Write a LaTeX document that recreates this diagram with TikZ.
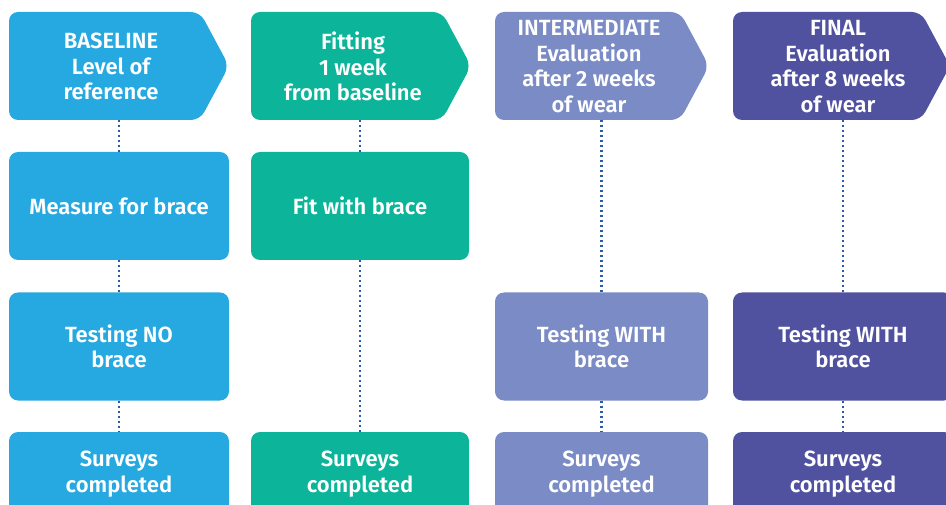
\documentclass[tikz,border=0pt]{standalone}
\usepackage{fontspec}
\setmainfont{Fira Sans}[BoldFont={Fira Sans SemiBold}]
\definecolor{cA}{RGB}{38,169,225}
\definecolor{cB}{RGB}{12,181,154}
\definecolor{cC}{RGB}{122,139,197}
\definecolor{cD}{RGB}{80,82,160}
\definecolor{dotblue}{RGB}{43,91,168}
\newcommand\labfont{\bfseries\fontsize{22}{25.5}\selectfont}
\tikzset{
  box/.style={fill=#1, rounded corners=9pt, minimum height=108pt, inner sep=0pt,
    text=white, font=\labfont, align=center},
  hshape/.style={fill=#1, rounded corners=9pt},
  htext/.style={text=white, font=\labfont, align=center, inner sep=0pt},
  dots/.style={draw=dotblue, line width=2.2pt, dash pattern=on 2pt off 3pt},
}
\begin{document}
\begin{tikzpicture}[x=1pt,y=-1pt]
\useasboundingbox (0,0) rectangle (946,505);
\clip (0,0) rectangle (946,505);
% headers
\fill[hshape=cA] (9,12) -- (200,12) -- (229,66) -- (200,120) -- (9,120) -- cycle;
\fill[hshape=cB] (251,12) -- (442,12) -- (471,66) -- (442,120) -- (251,120) -- cycle;
\fill[hshape=cC] (495,12) -- (680,12) -- (709,66) -- (680,120) -- (495,120) -- cycle;
\fill[hshape=cD] (733,12) -- (921,12) -- (950,66) -- (921,120) -- (733,120) -- cycle;
\node[htext] (h1) at (111,66.5) {BASELINE\\Level of\\reference};
\node[htext] (h2) at (353,66.5) {Fitting\\1 week\\from baseline};
\node[htext] (h3) at (589,66.5) {INTERMEDIATE\\Evaluation\\after 2 weeks\\of wear};
\node[htext] (h4) at (838,66.5) {FINAL\\Evaluation\\after 8 weeks\\of wear};
\coordinate (h1b) at (119,120);
\coordinate (h2b) at (360,120);
\coordinate (h3b) at (601.5,120);
\coordinate (h4b) at (843,120);
% boxes
\node[box=cA, minimum width=220pt] (m1) at (119,206) {Measure for brace};
\node[box=cA, minimum width=220pt] (t1) at (119,346.5) {Testing NO\\brace};
\node[box=cA, minimum width=220pt, minimum height=84pt] (s1) at (119,474) {Surveys\\completed};
\node[box=cB, minimum width=218pt] (f2) at (360,206) {Fit with brace};
\node[box=cB, minimum width=218pt, minimum height=84pt] (s2) at (360,474) {Surveys\\completed};
\node[box=cC, minimum width=213pt] (t3) at (601.5,346.5) {Testing WITH\\brace};
\node[box=cC, minimum width=213pt, minimum height=84pt] (s3) at (601.5,474) {Surveys\\completed};
\node[box=cD, minimum width=220pt] (t4) at (843,346.5) {Testing WITH\\brace};
\node[box=cD, minimum width=220pt, minimum height=84pt] (s4) at (843,474) {Surveys\\completed};
% connectors
\draw[dots] (h1b) -- (m1.north);
\draw[dots] (m1.south) -- (t1.north);
\draw[dots] (t1.south) -- (s1.north);
\draw[dots] (h2b) -- (f2.north);
\draw[dots] (f2.south) -- (s2.north);
\draw[dots] (h3b) -- (t3.north);
\draw[dots] (t3.south) -- (s3.north);
\draw[dots] (h4b) -- (t4.north);
\draw[dots] (t4.south) -- (s4.north);
\end{tikzpicture}
\end{document}
